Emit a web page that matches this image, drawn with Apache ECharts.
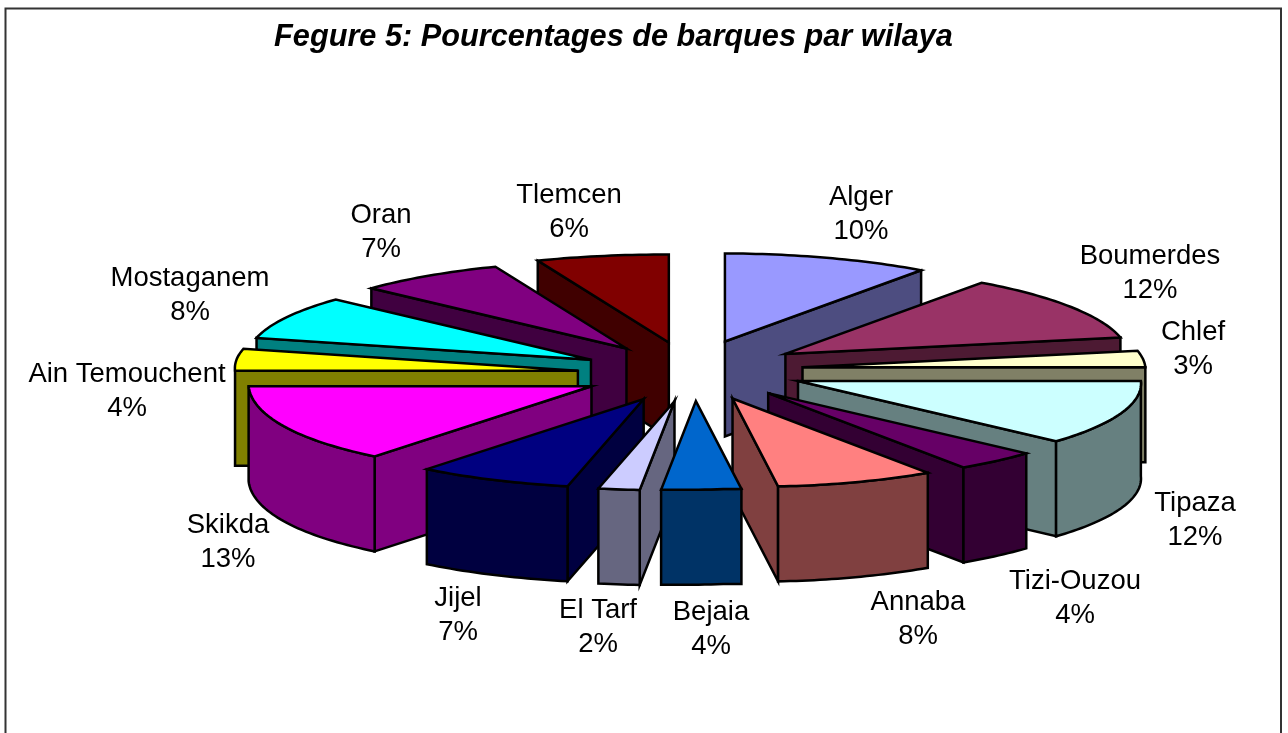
<!DOCTYPE html>
<html>
<head>
<meta charset="utf-8">
<style>html,body{margin:0;padding:0;background:#fff;overflow:hidden}#c{width:1288px;height:733px}</style>
<script src="https://cdn.jsdelivr.net/npm/echarts@6/dist/echarts.min.js"></script>
</head>
<body>
<div id="c"></div>
<script>
const titleText = 'Fegure 5: Pourcentages de barques par wilaya';
const categories = ['Alger','Boumerdes','Chlef','Tipaza','Tizi-Ouzou','Annaba','Bejaia','El Tarf','Jijel','Skikda','Ain Temouchent','Mostaganem','Oran','Tlemcen'];
const percentages = [10,12,3,12,4,8,4,2,7,13,4,8,7,6];
const topColors = ['#9999FF','#993366','#FFFFCC','#CCFFFF','#660066','#FF8080','#0066CC','#CCCCFF','#000080','#FF00FF','#FFFF00','#00FFFF','#800080','#800000'];
const sideColors = ['#4D4D80','#4D1A33','#808066','#668080','#330033','#804040','#003366','#666680','#000040','#800080','#808000','#008080','#400040','#400000'];

// Layout of the tilted, exploded pie (pixels)
const PIE = {cx:690, cy:370, explodeX:113, explodeY:30, rx:343, ry:88, depth:95, skewL:13, skewR:8, sag:4.5};
const LABEL_POS = [[861,214],[1150,273],[1193,349],[1195,520],[1075,598],[918,619],[711,629],[598,627],[458,615],[228,542],[127,391],[190,295],[381,232],[569,212]];
const LINE = {stroke:'#000', lineWidth:2.5, lineJoin:'miter', miterLimit:10};

const total = percentages.reduce((a,b)=>a+b,0);
function sliceAngles(i){
  let before = 0;
  for(let k=0;k<i;k++) before += percentages[k];
  return [before/total*2*Math.PI, (before+percentages[i])/total*2*Math.PI];
}
// small perspective correction of the rim angle (radians)
function twist(t){
  const deg = t*180/Math.PI;
  const d = 2*Math.sqrt(Math.abs(Math.sin(t/2))) + 3.2*Math.exp(-Math.pow((deg-200)/35,2));
  return d*Math.PI/180;
}
function renderSlice(params, api){
  const i = params.dataIndex;
  const [s,e] = sliceAngles(i);
  const m = (s+e)/2;
  const skew = Math.sin(m) > 0 ? PIE.skewR : PIE.skewL;
  const ax = PIE.cx + PIE.explodeX*Math.sin(m) + skew*Math.max(0,-Math.cos(m));
  const ay = PIE.cy - PIE.explodeY*Math.cos(m) + PIE.sag*Math.sqrt(Math.max(0,-Math.sin(m)));
  const rim = t => {
    const sagFront = 12*Math.max(0,-Math.sin(t))*Math.max(0,-Math.cos(t));
    return [ax + PIE.rx*Math.sin(t-twist(t)), ay - PIE.ry*Math.cos(t) + sagFront];
  };
  const down = p => [p[0], p[1]+PIE.depth];
  const arc = (a,b) => {
    const n = Math.max(2, Math.ceil((b-a)/0.02));
    const pts = [];
    for(let k=0;k<=n;k++) pts.push(rim(a+(b-a)*k/n));
    return pts;
  };
  const apex = [ax,ay];
  const z2 = Math.round(-Math.cos(m)*100)*10+1000;
  const kids = [];
  const poly = (pts,fill,dz) => kids.push({type:'polygon',shape:{points:pts},z2:z2+dz,
    style:Object.assign({fill},LINE),silent:true});
  const wall = t => {
    const p = rim(t);
    poly([apex,p,down(p),down(apex)], sideColors[i], 0);
  };
  if(Math.sin(s) < -1e-6) wall(s);
  if(Math.sin(e) > 1e-6 ) wall(e);
  const a = Math.max(s,Math.PI/2), b = Math.min(e,1.5*Math.PI);
  if(b>a){
    const f = arc(a,b);
    poly(f.concat(f.slice().reverse().map(down)), sideColors[i], 1);
  }
  poly([apex].concat(arc(s,e)), topColors[i], 2);
  kids.push({type:'text',z2:5000,silent:true,style:{
    x:LABEL_POS[i][0], y:LABEL_POS[i][1], text:categories[i]+'\n'+api.value(0)+'%',
    align:'center', verticalAlign:'middle', fill:'#000', lineHeight:34,
    font:'27.5px "Liberation Sans", Arial, sans-serif'}});
  return {type:'group',children:kids};
}
const chart = echarts.init(document.getElementById('c'),null,{renderer:'canvas'});
chart.setOption({
  backgroundColor:'#fff',
  animation:false,
  title:{text:titleText,left:608.5,top:33,textAlign:'center',textVerticalAlign:'middle',
    textStyle:{fontFamily:'"Liberation Sans", Arial, sans-serif',fontSize:30.7,fontWeight:'bold',fontStyle:'italic',color:'#000'}},
  graphic:[{type:'rect',silent:true,z:-1,shape:{x:5.5,y:8.5,width:1275.5,height:760},
    style:{fill:'#fff',stroke:'#333',lineWidth:2}}],
  series:[{type:'custom',coordinateSystem:'none',silent:true,
    data:percentages.map((v,i)=>({name:categories[i],value:[v]})),
    renderItem:renderSlice}]
});
</script>
</body>
</html>
